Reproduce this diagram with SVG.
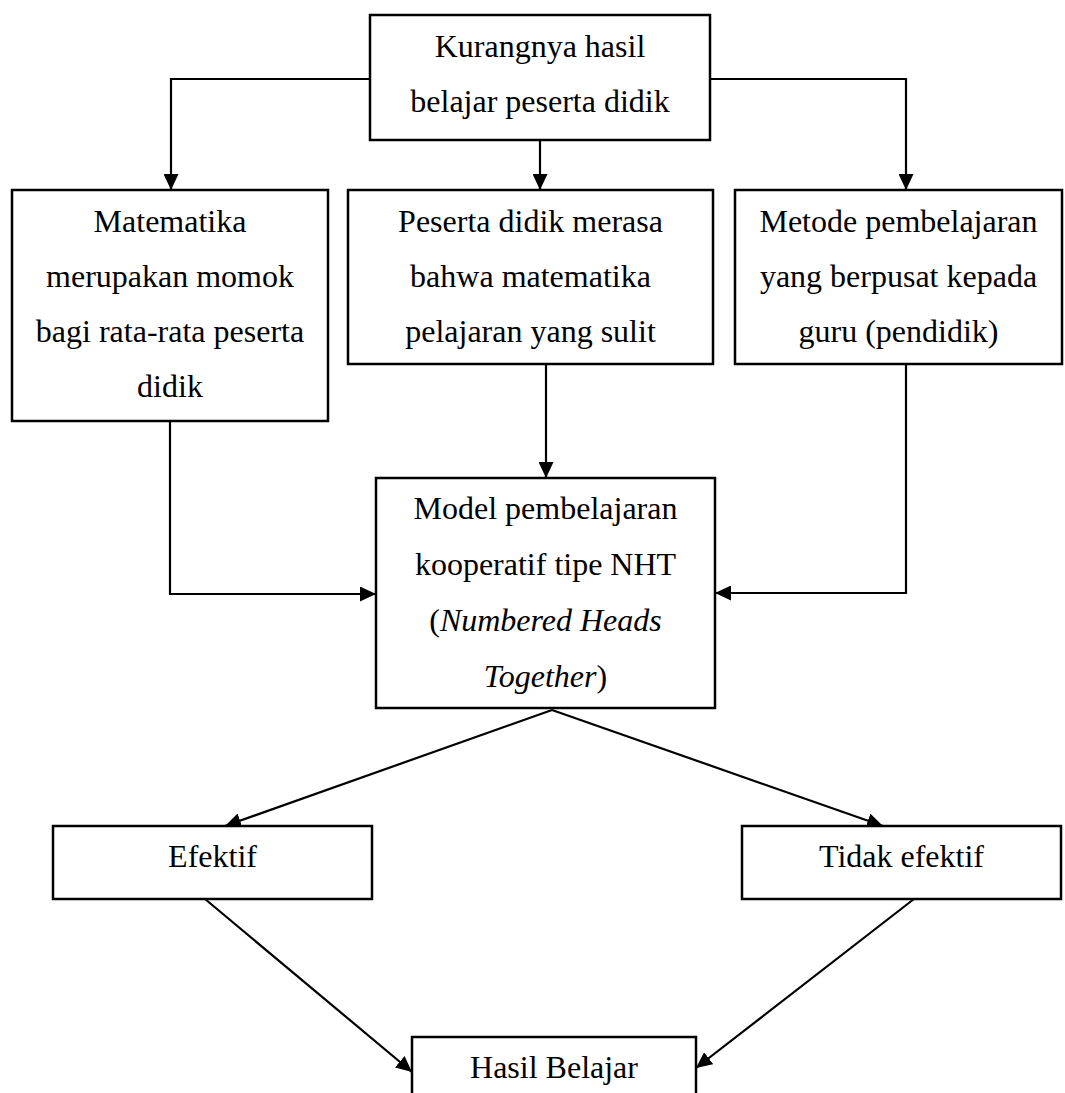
<svg xmlns="http://www.w3.org/2000/svg" width="1065" height="1093" viewBox="0 0 1065 1093">
<defs>
<marker id="ah" markerUnits="userSpaceOnUse" markerWidth="17" markerHeight="15" refX="16" refY="7.5" orient="auto">
<path d="M0,0 L16,7.5 L0,15 z" fill="#000"/>
</marker>
<style>
.box{fill:#fff;stroke:#000;stroke-width:2.5}
.t{font-family:"Liberation Serif","Times New Roman",serif;font-size:32px;fill:#000;text-anchor:middle}
.c{fill:none;stroke:#000;stroke-width:2.2}
</style>
</defs>
<rect width="1065" height="1093" fill="#fff"/>
<g id="connectors">
<polyline class="c" points="370,79 171,79 171,190" marker-end="url(#ah)"/>
<polyline class="c" points="540,140 540,190" marker-end="url(#ah)"/>
<polyline class="c" points="710,79 906,79 906,190" marker-end="url(#ah)"/>
<polyline class="c" points="170,421 170,594 376,594" marker-end="url(#ah)"/>
<polyline class="c" points="546,364 546,478" marker-end="url(#ah)"/>
<polyline class="c" points="906,364 906,593 715,593" marker-end="url(#ah)"/>
<line class="c" x1="552" y1="710" x2="225" y2="826" marker-end="url(#ah)"/>
<line class="c" x1="552" y1="710" x2="883" y2="826" marker-end="url(#ah)"/>
<line class="c" x1="205" y1="899" x2="412" y2="1072" marker-end="url(#ah)"/>
<line class="c" x1="914" y1="899" x2="696" y2="1068" marker-end="url(#ah)"/>
</g>
<g id="n-top">
<rect class="box" x="370" y="15" width="340" height="125"/>
<text class="t" x="540" y="57">Kurangnya hasil</text>
<text class="t" x="540" y="112">belajar peserta didik</text>
</g>
<g id="n-mat">
<rect class="box" x="12" y="190" width="316" height="231"/>
<text class="t" x="170" y="232">Matematika</text>
<text class="t" x="170" y="287">merupakan momok</text>
<text class="t" x="170" y="342">bagi rata-rata peserta</text>
<text class="t" x="170" y="397">didik</text>
</g>
<g id="n-peserta">
<rect class="box" x="348" y="190" width="365" height="174"/>
<text class="t" x="530.5" y="232">Peserta didik merasa</text>
<text class="t" x="530.5" y="287">bahwa matematika</text>
<text class="t" x="530.5" y="342">pelajaran yang sulit</text>
</g>
<g id="n-metode">
<rect class="box" x="735" y="190" width="327" height="174"/>
<text class="t" x="898.5" y="232">Metode pembelajaran</text>
<text class="t" x="898.5" y="287">yang berpusat kepada</text>
<text class="t" x="898.5" y="342">guru (pendidik)</text>
</g>
<g id="n-model">
<rect class="box" x="376" y="478" width="339" height="230"/>
<text class="t" x="545.5" y="519">Model pembelajaran</text>
<text class="t" x="545.5" y="575">kooperatif tipe NHT</text>
<text class="t" x="545.5" y="631">(<tspan font-style="italic">Numbered Heads</tspan></text>
<text class="t" x="545.5" y="687"><tspan font-style="italic">Together</tspan>)</text>
</g>
<g id="n-efektif">
<rect class="box" x="53" y="826" width="319" height="73"/>
<text class="t" x="212.5" y="867">Efektif</text>
</g>
<g id="n-tidak">
<rect class="box" x="742" y="826" width="319" height="73"/>
<text class="t" x="901.5" y="867">Tidak efektif</text>
</g>
<g id="n-hasil">
<rect class="box" x="412" y="1037" width="284" height="70"/>
<text class="t" x="554" y="1078">Hasil Belajar</text>
</g>
</svg>
